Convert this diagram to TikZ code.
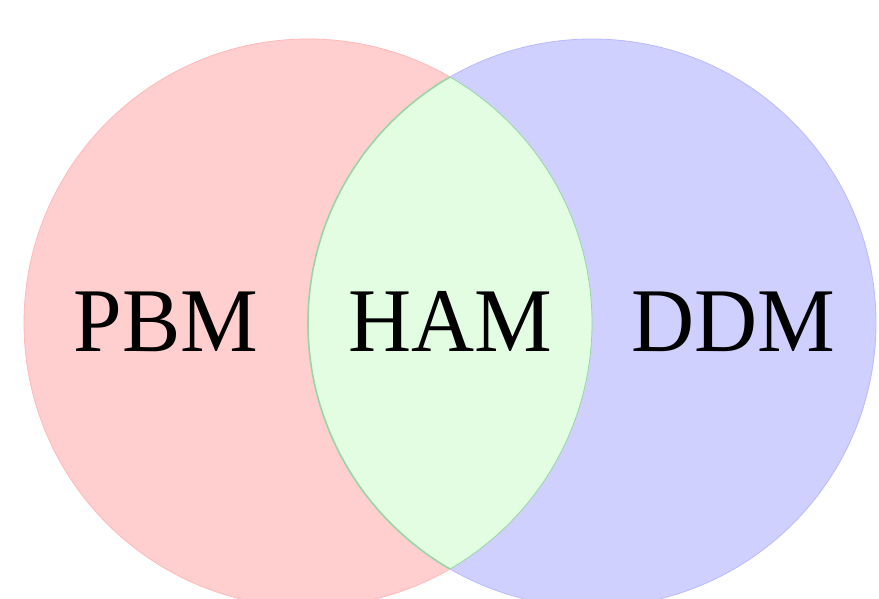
\documentclass[tikz,border=0pt]{standalone}
\usepackage{fontspec}
\setmainfont{Liberation Serif}
\definecolor{pbmfill}{RGB}{255,206,206}
\definecolor{pbmline}{RGB}{255,185,185}
\definecolor{ddmfill}{RGB}{208,208,255}
\definecolor{ddmline}{RGB}{185,185,255}
\definecolor{hamfill}{RGB}{227,253,227}
\definecolor{hamline}{RGB}{150,215,165}
\tikzset{
  setlabel/.style={anchor=base, inner sep=0pt, xscale=0.96,
    font=\fontsize{91}{91}\selectfont}
}
\begin{document}
\begin{tikzpicture}[x=1pt,y=1pt]
  \useasboundingbox (0,0) rectangle (879,599);
  \clip (0,0) rectangle (879,599);
  % the two sets
  \coordinate (cl) at (308,276);
  \coordinate (cr) at (592,276);
  \fill[pbmfill, draw=pbmline, line width=0.8pt] (cl) circle (284);
  \fill[ddmfill, draw=ddmline, line width=0.8pt] (cr) circle (284);
  % their overlap
  \begin{scope}
    \clip (cl) circle (284);
    \fill[hamfill, draw=hamline, line width=1.6pt] (cr) circle (284);
  \end{scope}
  \begin{scope}
    \clip (cr) circle (284);
    \draw[hamline, line width=0.8pt] (cl) circle (284);
  \end{scope}
  % labels
  \node[setlabel] (pbm) at (166,247) {PBM};
  \node[setlabel] (ham) at (450,247) {HAM};
  \node[setlabel] (ddm) at (733,247) {DDM};
\end{tikzpicture}
\end{document}
